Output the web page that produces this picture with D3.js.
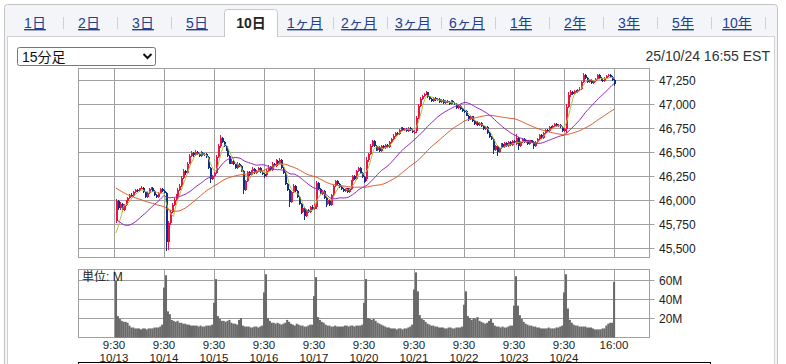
<!DOCTYPE html>
<html><head><meta charset="utf-8">
<script src="https://cdn.jsdelivr.net/npm/d3@7"></script>
<style>
html,body{margin:0;padding:0;background:#fff;}
svg{display:block;}
text{font-family:"Liberation Sans",Arial,"Noto Sans CJK JP",sans-serif;}
.cjk{font-family:"Liberation Sans","Noto Sans CJK JP",sans-serif;}
</style></head><body>
<svg id="chart" width="786" height="364"></svg>
<script>
// ---------------- data ----------------
const tabs = ["1日","2日","3日","5日","10日","1ヶ月","2ヶ月","3ヶ月","6ヶ月","1年","2年","3年","5年","10年"];
const selectedTab = "10日";
const intervalLabel = "15分足";
const timestamp = "25/10/24 16:55 EST";
const days = ["10/13","10/14","10/15","10/16","10/17","10/20","10/21","10/22","10/23","10/24"];
const openTime = "9:30";
const closeTime = "16:00";
const barsPerDay = 26;
const priceTicks = [45500,45750,46000,46250,46500,46750,47000,47250];
const volumeTicks = [20,40,60];
const volumeUnit = "単位: M";
const maPeriods = [5,26,52];

// closes of the 51 bars before the window (10/9 - 10/10), needed for the moving averages
const prevCloses = [46560,46580,46550,46540,46520,46530,46500,46510,46480,46470,46490,46460,46440,46450,46430,46420,46400,46410,46390,46380,46400,46370,46360,46350,46360,
46350,46320,46290,46300,46250,46180,46050,45950,45840,45780,45740,45700,45660,45650,45620,45610,45590,45610,45580,45600,45590,45580,45640,45600,45570,45480];

const opens = [
45780,45990,45920,45960,45900,45950,45990,46020,46050,46040,46080,46100,46090,46120,46130,46080,46030,46070,46110,46130,46090,46050,46030,46070,46110,46090,
46070,45560,45760,45880,45950,46000,46040,46100,46150,46230,46300,46280,46380,46460,46490,46470,46500,46480,46460,46490,46470,46480,46450,46330,46220,46250,
46280,46450,46560,46650,46600,46560,46520,46460,46380,46410,46370,46330,46380,46350,46300,46100,46200,46290,46260,46300,46320,46280,46300,46330,46290,46270,
46260,46300,46340,46310,46380,46350,46410,46380,46420,46330,46280,46170,46100,45980,46080,46150,46090,46030,45960,45870,45920,45830,45900,45870,45930,45910,
45930,46180,46110,46060,46090,46020,45960,46000,45950,46050,46150,46200,46170,46140,46110,46090,46120,46080,46110,46200,46250,46220,46300,46330,46280,46240,
46220,46420,46480,46560,46610,46560,46520,46550,46510,46560,46540,46570,46550,46600,46640,46670,46700,46690,46730,46750,46730,46740,46720,46750,46730,46710,
46720,46850,46980,47050,47080,47100,47120,47070,47050,47030,47060,47040,47050,47020,47040,47010,47030,47020,47000,47030,47010,47000,46960,46980,46950,46930,
46930,46880,46840,46870,46820,46790,46810,46780,46800,46770,46740,46760,46700,46660,46640,46520,46560,46500,46540,46580,46550,46590,46560,46600,46570,46610,
46580,46650,46560,46600,46640,46600,46620,46580,46620,46600,46560,46600,46640,46680,46650,46700,46730,46720,46760,46750,46770,46790,46770,46780,46760,46720,
46740,46970,47090,47130,47100,47140,47120,47150,47160,47230,47300,47270,47230,47250,47220,47240,47260,47300,47270,47250,47240,47270,47290,47300,47280,47250];

const highs = [
46010,46000,45980,45970,45960,46000,46030,46060,46070,46090,46110,46110,46130,46150,46140,46090,46080,46120,46140,46140,46100,46060,46080,46120,46120,46100,
46080,45780,45900,45970,46020,46060,46120,46170,46250,46320,46310,46400,46480,46510,46500,46520,46510,46490,46510,46500,46490,46490,46460,46340,46260,46290,
46470,46580,46680,46660,46610,46570,46530,46470,46430,46420,46380,46400,46390,46360,46310,46210,46300,46300,46310,46340,46330,46310,46340,46340,46300,46280,
46320,46360,46350,46400,46390,46430,46420,46440,46430,46340,46290,46180,46110,46090,46170,46160,46100,46040,45970,45940,45930,45910,45910,45940,45950,45960,
46200,46190,46120,46100,46100,46030,46010,46010,46060,46160,46210,46210,46180,46150,46120,46130,46130,46120,46210,46260,46260,46310,46340,46340,46290,46250,
46450,46490,46580,46630,46620,46570,46560,46560,46570,46570,46580,46580,46610,46650,46690,46710,46710,46740,46760,46760,46750,46750,46760,46760,46740,46730,
46870,47000,47070,47090,47110,47140,47130,47080,47060,47070,47070,47060,47060,47050,47050,47040,47040,47030,47040,47040,47020,47010,46990,46990,46960,46940,
46940,46890,46880,46880,46830,46820,46820,46810,46810,46780,46770,46770,46710,46670,46650,46570,46570,46550,46590,46590,46600,46600,46610,46610,46620,46620,
46690,46660,46610,46650,46650,46630,46630,46630,46630,46610,46610,46650,46690,46690,46710,46740,46740,46770,46770,46780,46800,46800,46790,46790,46770,46750,
47000,47120,47150,47140,47150,47150,47160,47180,47240,47320,47310,47280,47260,47260,47250,47270,47310,47310,47280,47260,47280,47300,47310,47310,47290,47260];

const lows = [
45760,45900,45900,45880,45890,45940,45980,46010,46030,46030,46070,46080,46080,46110,46070,46020,46020,46060,46100,46080,46040,46020,46020,46060,46080,46060,
45470,45480,45740,45860,45940,45990,46030,46090,46140,46220,46260,46270,46370,46450,46450,46460,46470,46450,46450,46460,46460,46440,46320,46180,46210,46240,
46270,46440,46540,46590,46550,46510,46450,46370,46370,46360,46320,46320,46340,46290,46060,46090,46190,46250,46250,46290,46270,46270,46290,46280,46260,46230,
46240,46290,46300,46300,46340,46340,46370,46370,46320,46270,46160,46090,45930,45970,46070,46080,46020,45950,45850,45860,45790,45820,45860,45860,45900,45900,
45910,46100,46050,46050,46010,45930,45950,45940,45940,46040,46140,46160,46130,46100,46080,46080,46070,46070,46100,46190,46210,46210,46290,46270,46230,46180,
46200,46400,46470,46550,46550,46510,46510,46500,46500,46530,46530,46540,46540,46590,46630,46660,46680,46680,46720,46720,46720,46710,46710,46720,46700,46690,
46700,46840,46970,47040,47070,47090,47060,47040,47020,47020,47030,47030,47010,47010,47000,47000,47010,46990,46990,47000,46990,46950,46950,46940,46920,46910,
46870,46820,46830,46810,46780,46780,46770,46770,46760,46730,46730,46690,46650,46630,46480,46510,46460,46490,46530,46540,46540,46550,46550,46560,46560,46580,
46570,46520,46550,46590,46590,46590,46570,46570,46590,46530,46550,46590,46630,46640,46640,46690,46710,46710,46740,46740,46760,46760,46760,46750,46710,46710,
46700,46960,47070,47090,47090,47110,47110,47140,47150,47220,47260,47220,47220,47210,47210,47230,47250,47260,47240,47230,47230,47260,47280,47270,47240,47190];

const closes = [
45990,45920,45960,45900,45950,45990,46020,46050,46040,46080,46100,46090,46120,46130,46080,46030,46070,46110,46130,46090,46050,46030,46070,46110,46090,46070,
45560,45760,45880,45950,46000,46040,46100,46150,46230,46300,46280,46380,46460,46490,46470,46500,46480,46460,46490,46470,46480,46450,46330,46220,46250,46270,
46450,46560,46650,46600,46560,46520,46460,46380,46410,46370,46330,46380,46350,46300,46100,46200,46290,46260,46300,46320,46280,46300,46330,46290,46270,46250,
46300,46340,46310,46380,46350,46410,46380,46420,46330,46280,46170,46100,45980,46080,46150,46090,46030,45960,45870,45920,45830,45900,45870,45930,45910,45950,
46180,46110,46060,46090,46020,45960,46000,45950,46050,46150,46200,46170,46140,46110,46090,46120,46080,46110,46200,46250,46220,46300,46330,46280,46240,46190,
46420,46480,46560,46610,46560,46520,46550,46510,46560,46540,46570,46550,46600,46640,46670,46700,46690,46730,46750,46730,46740,46720,46750,46730,46710,46710,
46850,46980,47050,47080,47100,47120,47070,47050,47030,47060,47040,47050,47020,47040,47010,47030,47020,47000,47030,47010,47000,46960,46980,46950,46930,46920,
46880,46840,46870,46820,46790,46810,46780,46800,46770,46740,46760,46700,46660,46640,46520,46560,46500,46540,46580,46550,46590,46560,46600,46570,46610,46590,
46650,46560,46600,46640,46600,46620,46580,46620,46600,46560,46600,46640,46680,46650,46700,46730,46720,46760,46750,46770,46790,46770,46780,46760,46720,46740,
46970,47090,47130,47100,47140,47120,47150,47160,47230,47300,47270,47230,47250,47220,47240,47260,47300,47270,47250,47240,47270,47290,47300,47280,47250,47210];

// volume, millions
const volumes = [
59,22,19,17,16,16,15,12,10,10,9,9,9,8,9,9,8,9,9,9,10,10,10,11,13,52,
65,27,24,18,17,16,17,15,15,14,14,13,13,12,12,12,12,11,12,11,11,12,12,12,13,36,
61,22,19,17,17,16,17,18,15,14,14,13,18,20,12,11,11,11,10,10,11,11,10,11,12,47,
66,20,17,15,15,14,15,14,13,14,15,18,16,14,13,12,14,13,12,12,11,11,12,13,13,43,
63,21,18,16,15,13,12,12,11,11,12,11,11,11,11,12,12,11,12,12,11,12,12,12,13,36,
61,20,19,18,19,17,15,14,13,12,11,10,10,9,9,9,8,9,9,8,9,9,10,11,13,50,
68,48,23,19,18,16,14,13,12,12,11,11,10,10,10,9,9,10,10,9,9,10,10,10,11,34,
48,22,20,18,20,19,21,17,16,15,14,15,17,19,15,12,11,11,10,11,10,10,11,12,12,33,
64,33,23,19,16,14,13,12,12,11,11,10,10,9,9,9,9,10,9,9,9,10,10,11,12,47,
66,30,18,15,13,12,12,11,11,11,11,10,10,10,9,8,8,8,8,9,9,12,14,15,15,58];

// ---------------- drawing ----------------
const svg = d3.select("#chart");
const C = {
  up:"#ee1144", down:"#0c2f8c", ma:["#b0c234","#9422c4","#e0582a"],
  grid:"#a0a0a0", text:"#222", link:"#23408e", volume:"#6a6a6a"
};

// container + tab bar
svg.append("rect").attr("x",4.5).attr("y",4.5).attr("width",773).attr("height",400)
  .attr("rx",3).attr("fill","#f4f5f9").attr("stroke","#c4c4c4");
svg.append("rect").attr("x",7.5).attr("y",36.5).attr("width",767).attr("height",400)
  .attr("fill","#fff").attr("stroke","#d2d2d2");

const tabX = d3.scaleLinear().domain([0,1]).range([35,89]);
const tabW = 54;
tabs.forEach((t,i)=>{
  const cx = tabX(i);
  if (t === selectedTab){
    svg.append("path")
      .attr("d",`M${cx-26.5},37 V12.5 Q${cx-26.5},9.5 ${cx-23.5},9.5 H${cx+23.5} Q${cx+26.5},9.5 ${cx+26.5},12.5 V37`)
      .attr("fill","#fff").attr("stroke","#c8c8c8");
    svg.append("line").attr("x1",cx-26).attr("x2",cx+26).attr("y1",36.5).attr("y2",36.5).attr("stroke","#fff").attr("stroke-width",1.5);
    svg.append("text").attr("class","cjk").attr("x",cx).attr("y",28).attr("text-anchor","middle")
      .attr("font-size",14).attr("font-weight","bold").attr("fill","#222").text(t);
  } else {
    svg.append("text").attr("class","cjk").attr("x",cx).attr("y",28).attr("text-anchor","middle")
      .attr("font-size",14).attr("fill",C.link).style("text-decoration","underline").text(t);
  }
  const sx = cx + tabW/2 + 0.5;
  const nextSel = tabs[i+1] === selectedTab, isSel = t === selectedTab;
  if (!nextSel && !isSel){
    svg.append("line").attr("x1",Math.round(sx)+0.5).attr("x2",Math.round(sx)+0.5).attr("y1",17).attr("y2",29)
      .attr("stroke","#d0d0d0");
  }
});

// interval select
const sel = svg.append("g");
sel.append("rect").attr("x",17.5).attr("y",47.5).attr("width",138).attr("height",18).attr("rx",2)
  .attr("fill","#fff").attr("stroke","#767676");
sel.append("text").attr("class","cjk").attr("x",22).attr("y",61.5).attr("font-size",14).attr("fill","#111").text(intervalLabel);
sel.append("path").attr("d","M143.5,54 L147.5,58 L151.5,54").attr("fill","none").attr("stroke","#111").attr("stroke-width",2);

svg.append("text").attr("x",770).attr("y",61).attr("text-anchor","end").attr("font-size",14).attr("fill","#333").text(timestamp);

// scales
const nBars = days.length*barsPerDay;
const x = d3.scaleLinear().domain([0,nBars]).range([114,614]);
const yP = d3.scaleLinear().domain([priceTicks[0], priceTicks[priceTicks.length-1]]).range([248,80]);
const yV = d3.scaleLinear().domain([0,60]).range([337,280]);

const P = {l:78.5, r:649.5, t:68.5, b:257.5};
const V = {l:78.5, r:649.5, t:269.5, b:337.5};
const dayIdx = d3.range(days.length+1).map(d=>d*barsPerDay);

function frame(g, F, yTicks, yS, fmt){
  g.append("rect").attr("x",F.l).attr("y",F.t).attr("width",F.r-F.l).attr("height",F.b-F.t)
    .attr("fill","#fff").attr("stroke",C.grid);
  g.selectAll(".hg").data(yTicks).join("line")
    .attr("x1",F.l).attr("x2",F.r+5).attr("y1",d=>Math.round(yS(d))+0.5).attr("y2",d=>Math.round(yS(d))+0.5)
    .attr("stroke",C.grid);
  g.selectAll(".vg").data(dayIdx).join("line")
    .attr("x1",d=>Math.round(x(d))+0.5).attr("x2",d=>Math.round(x(d))+0.5).attr("y1",F.t).attr("y2",F.b)
    .attr("stroke",C.grid);
  g.selectAll(".yl").data(yTicks).join("text")
    .attr("x",659).attr("y",d=>Math.round(yS(d))+0.5).attr("dy","0.36em").attr("font-size",12).attr("fill",C.text)
    .text(fmt);
}
const gP = svg.append("g");
frame(gP, P, priceTicks, yP, d3.format(","));
const gV = svg.append("g");
frame(gV, V, volumeTicks, yV, d=>d+"M");

// candles
const bars = d3.range(nBars).map(i=>({i,o:opens[i],h:highs[i],l:lows[i],c:closes[i]}));
const cg = gP.append("g").attr("shape-rendering","crispEdges");
cg.selectAll(".wick").data(bars).join("rect")
  .attr("x",d=>Math.round(x(d.i+1))).attr("width",1)
  .attr("y",d=>yP(d.h)).attr("height",d=>Math.max(1,yP(d.l)-yP(d.h)))
  .attr("fill",d=>d.c>=d.o?C.up:C.down);
cg.selectAll(".body").data(bars).join("rect")
  .attr("x",d=>Math.round(x(d.i+1))-0.5).attr("width",2)
  .attr("y",d=>yP(Math.max(d.o,d.c))).attr("height",d=>Math.max(1,Math.abs(yP(d.o)-yP(d.c))))
  .attr("fill",d=>d.c>=d.o?C.up:C.down);

// moving averages
const allCloses = prevCloses.concat(closes);
const off = prevCloses.length;
maPeriods.forEach((n,mi)=>{
  const pts = d3.range(nBars).map(i=>({i, v:d3.mean(allCloses.slice(off+i-n+1, off+i+1))}));
  gP.append("path").datum(pts)
    .attr("d", d3.line().x(d=>x(d.i+1)).y(d=>yP(d.v)))
    .attr("fill","none").attr("stroke",C.ma[mi]).attr("stroke-width",1);
});

// volume
const vb = volumes.map((v,i)=>({i,v}));
gV.append("g").selectAll("rect").data(vb).join("rect")
  .attr("x",d=>x(d.i+0.5)).attr("width",x(1)-x(0)+0.15)
  .attr("y",d=>yV(d.v)).attr("height",d=>yV(0)-yV(d.v)+0.5)
  .attr("fill",C.volume);
gV.append("text").attr("class","cjk").attr("x",82).attr("y",281).attr("font-size",12).attr("fill",C.text).text(volumeUnit);

// x labels
const xl = svg.append("g").attr("font-size",11.5).attr("fill",C.text).attr("text-anchor","middle");
days.forEach((d,k)=>{
  xl.append("text").attr("x",x(k*barsPerDay)).attr("y",348.5).text(openTime);
  xl.append("text").attr("x",x(k*barsPerDay)).attr("y",361.5).text(d);
});
xl.append("text").attr("x",x(nBars)).attr("y",348.5).text(closeTime);

// box below
svg.append("rect").attr("x",78.5).attr("y",362.5).attr("width",632).attr("height",20)
  .attr("fill","none").attr("stroke","#000");
</script>
</body></html>
